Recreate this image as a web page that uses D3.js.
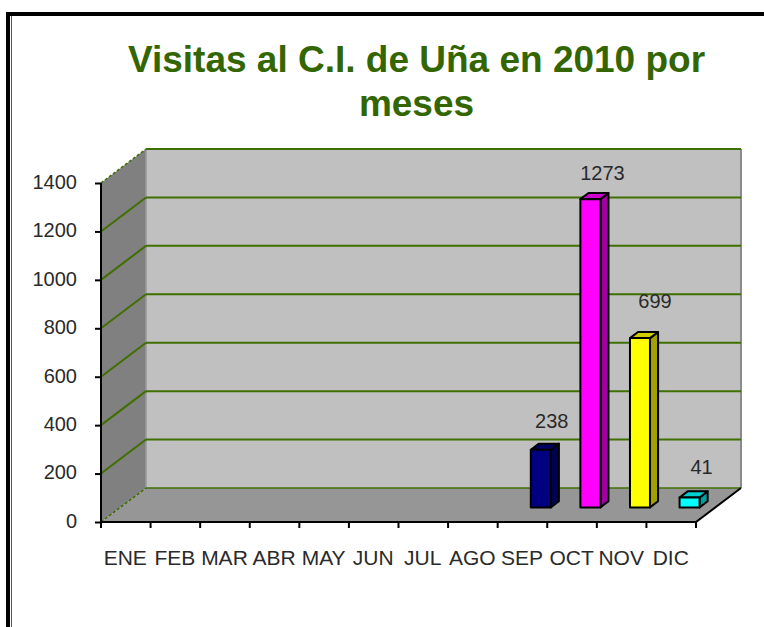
<!DOCTYPE html>
<html><head><meta charset="utf-8">
<script src="https://cdn.jsdelivr.net/npm/d3@7/dist/d3.min.js"></script>
<style>html,body{margin:0;padding:0;background:#fff;overflow:hidden}svg{display:block}
text{font-family:"Liberation Sans",Arial,sans-serif}</style></head><body>
<script>
const titleLines = ["Visitas al C.I. de Uña en 2010 por", "meses"];
const months = ["ENE","FEB","MAR","ABR","MAY","JUN","JUL","AGO","SEP","OCT","NOV","DIC"];
const values = [null,null,null,null,null,null,null,null,238,1273,699,41];
const barColors = ["#000080","#ff00ff","#ffff00","#00ffff"];
const yTicks = [0,200,400,600,800,1000,1200,1400];

const W=764,H=627;
const svg=d3.select("body").append("svg").attr("width",W).attr("height",H);
const x=d3.scaleBand().domain(months).range([101,696]);
const y=d3.scaleLinear().domain([0,1400]).range([522,183]);
const DX=45,DY=-34;
const pt=(px,py,z)=>[px+DX*z,py+DY*z];
const poly=(pts,fill,stroke,sw)=>svg.append("polygon").attr("points",pts.map(p=>p.join(",")).join(" "))
  .attr("fill",fill).attr("stroke",stroke||"none").attr("stroke-width",sw||0).attr("stroke-linejoin","round");

// frame
svg.append("rect").attr("x",6).attr("y",12).attr("width",W).attr("height",4).attr("fill","#000");
svg.append("rect").attr("x",6).attr("y",12).attr("width",4).attr("height",H).attr("fill","#000");
svg.append("rect").attr("x",11).attr("y",16).attr("width",1).attr("height",H).attr("fill","#555");

// title
svg.append("g").selectAll("text").data(titleLines).join("text")
  .attr("x",416.5).attr("y",(d,i)=>72+i*44).attr("text-anchor","middle")
  .attr("font-size",37).attr("font-weight","bold").attr("fill","#336600").text(d=>d);

// walls
const [x0,x1]=x.range(), y0=y(0), yT=y(1400);
poly([pt(x0,yT,1),pt(x1,yT,1),pt(x1,y0,1),pt(x0,y0,1)],"#c0c0c0");
poly([pt(x0,yT,0),pt(x0,yT,1),pt(x0,y0,1),pt(x0,y0,0)],"#808080");
poly([pt(x0,y0,0),pt(x0,y0,1),pt(x1,y0,1),pt(x1,y0,0)],"#969696");
// back wall edges
svg.append("line").attr("x1",x1+DX).attr("x2",x1+DX).attr("y1",yT+DY).attr("y2",y0+DY).attr("stroke","#8a8a8a").attr("stroke-width",2);
svg.append("line").attr("x1",x0+DX).attr("x2",x0+DX).attr("y1",yT+DY).attr("y2",y0+DY).attr("stroke","#999").attr("stroke-width",1.5);

// gridlines: wall diagonal plus back-wall run; the outermost diagonals read as dotted
const grid=svg.append("g").attr("fill","none").attr("stroke","#3f6f00").attr("stroke-width",2);
const lineStr=ps=>ps.map(p=>p.join(",")).join(" ");
yTicks.forEach(t=>{
  const edge=t===0||t===1400;
  grid.append("polyline").attr("points",lineStr([pt(x0,y(t),0),pt(x0,y(t),1)]))
    .attr("stroke-width",edge?1.5:2).attr("stroke-dasharray",edge?"3 2":null);
  grid.append("polyline").attr("points",lineStr([pt(x0,y(t),1),pt(x1,y(t),1)]))
    .attr("stroke-width",t===0?1.5:2);
});

// floor edges
svg.append("polyline").attr("points",lineStr([pt(x0,y0,0),pt(x1,y0,0),pt(x1,y0,1)]))
  .attr("fill","none").attr("stroke","#000").attr("stroke-width",2);

// axes
const ax=svg.append("g").attr("transform",`translate(-0.5,${y0})`)
  .call(d3.axisBottom(d3.scalePoint().domain(d3.range(13)).range([x0,x1])).tickSize(6).tickFormat(""));
ax.select(".domain").remove();
ax.selectAll("line").attr("stroke","#000").attr("stroke-width",2);
const ml=svg.append("g").attr("transform",`translate(-0.5,${y0})`)
  .call(d3.axisBottom(x).tickSize(0).tickPadding(28));
ml.select(".domain").remove();
ml.selectAll("text").attr("font-size",21).attr("fill","#2a2a2a").attr("font-family","Liberation Sans");
const ay=svg.append("g").attr("transform",`translate(${x0},0)`)
  .call(d3.axisLeft(y).tickValues(yTicks).tickSize(6).tickPadding(18).tickFormat(d3.format("d")));
ay.select(".domain").attr("stroke","#000").attr("stroke-width",2).attr("d",`M0,${yT}V${y0}`);
ay.selectAll("line").attr("stroke","#000").attr("stroke-width",2);
ay.selectAll("text").attr("font-size",20).attr("fill","#2a2a2a").attr("font-family","Liberation Sans").attr("dy","0.27em");

// bars
const barW=20, zF=0.43, zB=0.61;
const shade=(c,k)=>d3.color(c).darker(k).formatHex();
const labelLift=[29,26,37,30], labelShift=[11,12,15,12];
months.forEach((m,i)=>{
  const v=values[i]; if(v==null) return;
  const j=i-8, c=barColors[j];
  const l=x(m)+x.bandwidth()/2-barW/2-1, r=l+barW, t=y(v), b=y(0);
  const F=(px,py)=>pt(px,py,zF), B=(px,py)=>pt(px,py,zB);
  poly([F(r,t),B(r,t),B(r,b),F(r,b)],shade(c,1.3),"#000",2);
  poly([F(l,t),B(l,t),B(r,t),F(r,t)],shade(c,.6),"#000",2);
  poly([F(l,t),F(r,t),F(r,b),F(l,b)],c,"#000",2);
  svg.append("text").attr("x",F(l+barW/2,t)[0]+labelShift[j]).attr("y",F(l,t)[1]-labelLift[j]+7)
    .attr("text-anchor","middle").attr("font-size",20).attr("fill","#2a2a2a").text(v);
});
</script></body></html>
